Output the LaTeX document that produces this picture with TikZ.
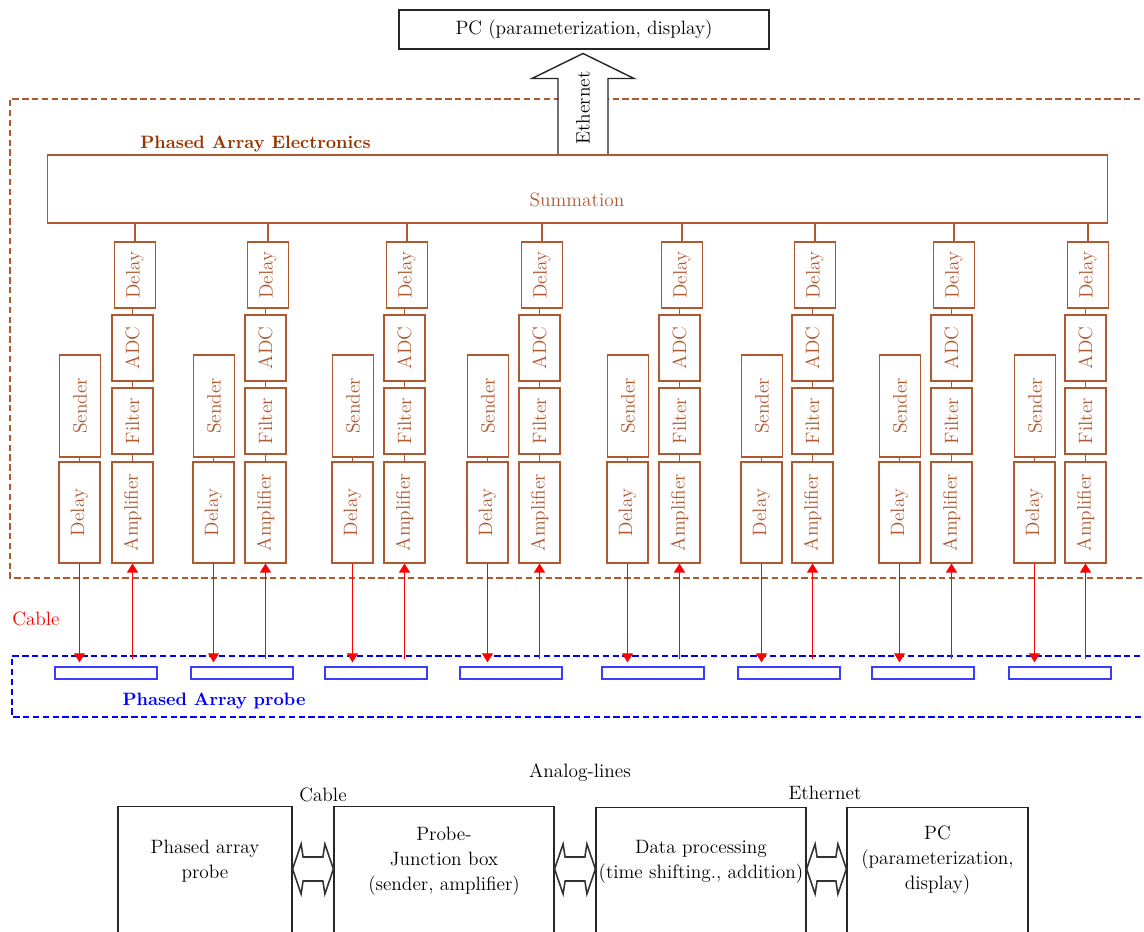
\documentclass[tikz,border=0pt]{standalone}
\usepackage{tikz}
\usetikzlibrary{calc,arrows.meta}

\definecolor{elec}{RGB}{176,88,48}
\definecolor{elecdark}{RGB}{153,51,0}
\definecolor{probeblue}{RGB}{0,0,255}
\definecolor{elemblue}{RGB}{60,60,255}

\tikzset{
    every node/.style={font=\fontsize{11}{14.2}\selectfont},
    boldlbl/.style={font=\fontsize{10.2}{12}\selectfont\bfseries},
    blk/.style={draw=elec, text=elec, line width=0.6pt, minimum width=0.82cm, inner sep=0pt},
    sumbox/.style={draw=elec, line width=0.6pt, minimum width=21.22cm, minimum height=1.36cm},
    wire/.style={draw=elec, line width=0.6pt},
    sig/.style={draw=red, line width=0.6pt, -{Triangle[length=0.18cm,width=0.22cm]}},
    elem/.style={draw=elemblue, line width=0.8pt, minimum width=2.04cm, minimum height=0.24cm, inner sep=0pt},
    pcbox/.style={draw=black!85, line width=0.8pt, minimum width=7.4cm, minimum height=0.78cm},
    plainbox/.style={draw=black!85, line width=0.7pt, minimum height=3.2cm, anchor=north},
    fatarrow/.style={draw=black!85, fill=white, line width=0.8pt},
    twoarrow/.style={draw=black!80, fill=white, line width=0.9pt, line join=miter},
    elecframe/.style={draw=elec, line width=0.6pt, dash pattern=on 3.6pt off 2pt},
    probeframe/.style={draw=probeblue, line width=0.6pt, dash pattern=on 3.6pt off 2pt}
}

\newcommand{\twoway}[2]{%
    \draw[twoarrow] (#1.east |- arrowy) -- ++(8.5,-25) -- ++(2,13)
        -- ($(#2.west |- arrowy)+(-10.5,-12)$) -- ++(2,-13) -- (#2.west |- arrowy)
        -- ++(-8.5,25) -- ++(-2,-13) -- ($(#1.east |- arrowy)+(10.5,12)$)
        -- ++(-2,13) -- cycle;}

\begin{document}
\begin{tikzpicture}[x=0.02cm,y=-0.02cm]
    \useasboundingbox (0,0) rectangle (1144,931);
    \clip (0,0) rectangle (1144,931);

    % frames
    \draw[elecframe] (1160,99) -| (10,578) -- (1160,578);
    \draw[probeframe] (1160,656) -| (12,717) -- (1160,717);

    % top part
    \node[pcbox] (pc) at (584,29.5) {PC (parameterization, display)};
    \node[sumbox] (sum) at (577.5,189) {};
    \node[text=elec] (sumlbl) at (577,200) {Summation};
    \node[boldlbl, text=elecdark] (eleclbl) at (255.5,144) {Phased Array Electronics};

    \coordinate (ethbase) at (sum.north -| 583,0);
    \draw[fatarrow] (ethbase) ++(-25,-0.5) -- ++(0,-75.5) -- ++(-26,0) -- ++(51,-25)
        -- ++(51,25) -- ++(-26,0) -- ++(0,75.5);
    \node[rotate=90] (ethlbl) at (583,108) {Ethernet};

    % channels
    \foreach \s/\a/\p [count=\i] in {59/112/55, 193/245/191, 332/384/325, 467/519/460,
                                     607/659/602, 741/792/738, 879/931/872, 1014/1065/1009}{
        \node[blk, minimum height=1.32cm] (dly\i) at (\a+23,275) {\rotatebox{90}{Delay}};
        \node[blk, minimum height=1.32cm] (adc\i) at (\a+20.5,348) {\rotatebox{90}{ADC}};
        \node[blk, minimum height=1.32cm] (flt\i) at (\a+20.5,421) {\rotatebox{90}{Filter}};
        \node[blk, minimum height=2.02cm] (amp\i) at (\a+20.5,512.5) {\rotatebox{90}{Amplifier}};
        \node[blk, minimum height=2.04cm] (snd\i) at (\s+21,406) {\rotatebox{90}{Sender}};
        \node[blk, minimum height=2.02cm] (tdl\i) at (\s+20.5,512.5) {\rotatebox{90}{Delay}};
        \node[elem] (elm\i) at (\p+51,673) {};

        \draw[wire] (sum.south -| dly\i.north) -- (dly\i.north);
        \draw[wire] (adc\i.north) -- (adc\i.north |- dly\i.south);
        \draw[wire] (flt\i) -- (adc\i);
        \draw[wire] (amp\i) -- (flt\i);
        \draw[wire] (tdl\i.north) -- (tdl\i.north |- snd\i.south);
        \draw[sig, shorten >=0.08cm] (tdl\i.south) -- (tdl\i.south |- elm\i.north);
        \draw[sig, shorten <=0.14cm] (amp\i.south |- elm\i.north) -- (amp\i.south);
    }

    \node[text=red] (cablelbl) at (36,619) {Cable};
    \node[boldlbl, text=probeblue] (probelbl) at (214,701) {Phased Array probe};

    % overview chain
    \node[plainbox, minimum width=3.48cm] (pab) at (205,806) {};
    \node[plainbox, minimum width=4.4cm] (jbox) at (444,806) {};
    \node[plainbox, minimum width=4.2cm] (dproc) at (701,806.5) {};
    \node[plainbox, minimum width=3.62cm] (pcb) at (937.5,806.5) {};

    \node[align=center] (pabtxt) at (205,861) {Phased array\\probe};
    \node[align=center] (jboxtxt) at (444,861) {Probe-\\Junction box\\(sender, amplifier)};
    \node[align=center] (dproctxt) at (701,861.5) {Data processing\\(time shifting., addition)};
    \node[align=center] (pcbtxt) at (937.5,860) {PC\\(parameterization,\\display)};

    \node (analoglbl) at (580,773) {Analog-lines};
    \node (cablelbl2) at (323,795) {Cable};
    \node (ethlbl2) at (825,793) {Ethernet};

    \coordinate (arrowy) at (0,869);
    \twoway{pab}{jbox}
    \twoway{jbox}{dproc}
    \twoway{dproc}{pcb}
\end{tikzpicture}
\end{document}
